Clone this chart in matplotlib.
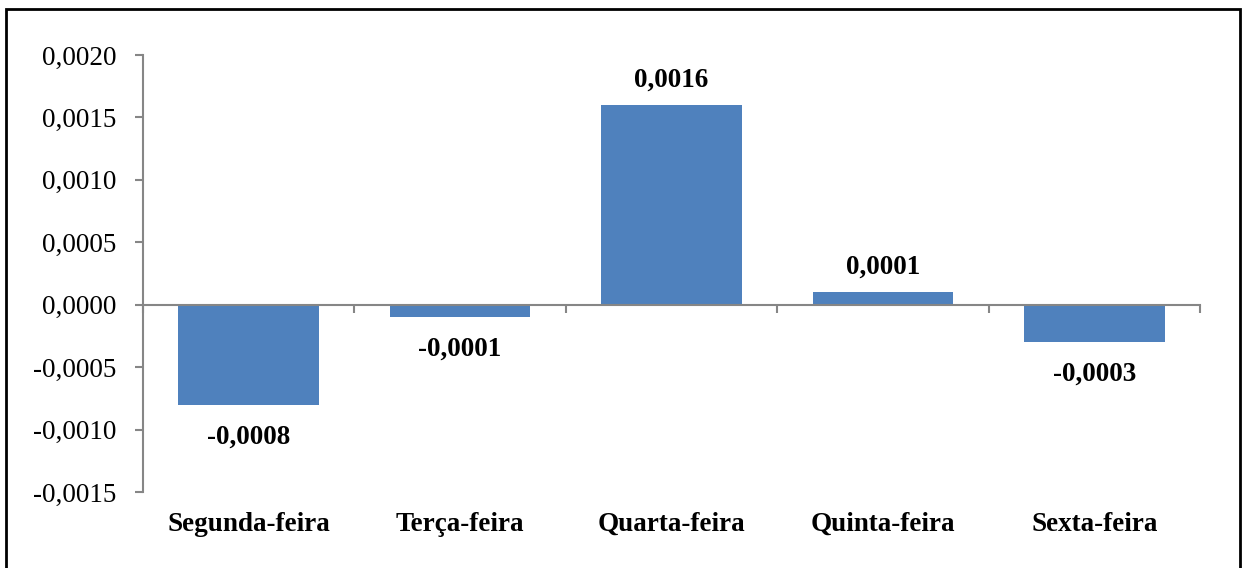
import matplotlib.pyplot as plt
from matplotlib.patches import Rectangle

dias = ["Segunda-feira", "Terça-feira", "Quarta-feira", "Quinta-feira", "Sexta-feira"]
valores = [-0.0008, -0.0001, 0.0016, 0.0001, -0.0003]
rotulos = ["-0,0008", "-0,0001", "0,0016", "0,0001", "-0,0003"]
yticks = [-0.0015, -0.0010, -0.0005, 0.0, 0.0005, 0.0010, 0.0015, 0.0020]

plt.rcParams['font.family'] = ['Liberation Serif', 'DejaVu Serif']
fs = 19.5

fig = plt.figure(figsize=(12.44, 5.68), dpi=100)
ax = fig.add_axes([143/1244, 1-492/568, (1200-143)/1244, (492-55)/568])

x = list(range(len(dias)))
ax.bar(x, valores, width=0.665, color="#4F81BD", zorder=2)

ax.set_xlim(-0.5, len(dias) - 0.5)
ax.set_ylim(-0.0015, 0.0020)
ax.set_yticks(yticks)
ax.set_yticklabels([f"{v:.4f}".replace(".", ",") for v in yticks], fontsize=fs)

gray = "#868686"
ax.spines["top"].set_visible(False)
ax.spines["right"].set_visible(False)
ax.spines["left"].set_color(gray)
ax.spines["left"].set_linewidth(1.5)
ax.spines["bottom"].set_position(("data", 0))
ax.spines["bottom"].set_color(gray)
ax.spines["bottom"].set_linewidth(1.5)
ax.tick_params(axis="y", direction="out", length=6, color=gray, width=1.5, pad=13)

# ticks do eixo x nas fronteiras entre categorias
ax.set_xticks([i - 0.5 for i in range(len(dias) + 1)])
ax.set_xticklabels([])
ax.tick_params(axis="x", direction="out", length=6, color=gray, width=1.5)

for i, d in enumerate(dias):
    ax.text(i, -0.0015 - 0.00026, d, ha="center", va="center",
            fontsize=fs, fontweight="bold")

for i, (v, r) in enumerate(zip(valores, rotulos)):
    if v >= 0:
        ax.text(i, v + 0.0002, r, ha="center", va="center", fontsize=fs, fontweight="bold")
    else:
        ax.text(i, v - 0.00026, r, ha="center", va="center", fontsize=fs, fontweight="bold")

fig.patches.append(Rectangle((6/1244, -0.01), (1240-6)/1244, 1 - 9/568 + 0.01,
                             transform=fig.transFigure, fill=False,
                             edgecolor="black", linewidth=2))

fig.savefig("out.png", dpi=100)
